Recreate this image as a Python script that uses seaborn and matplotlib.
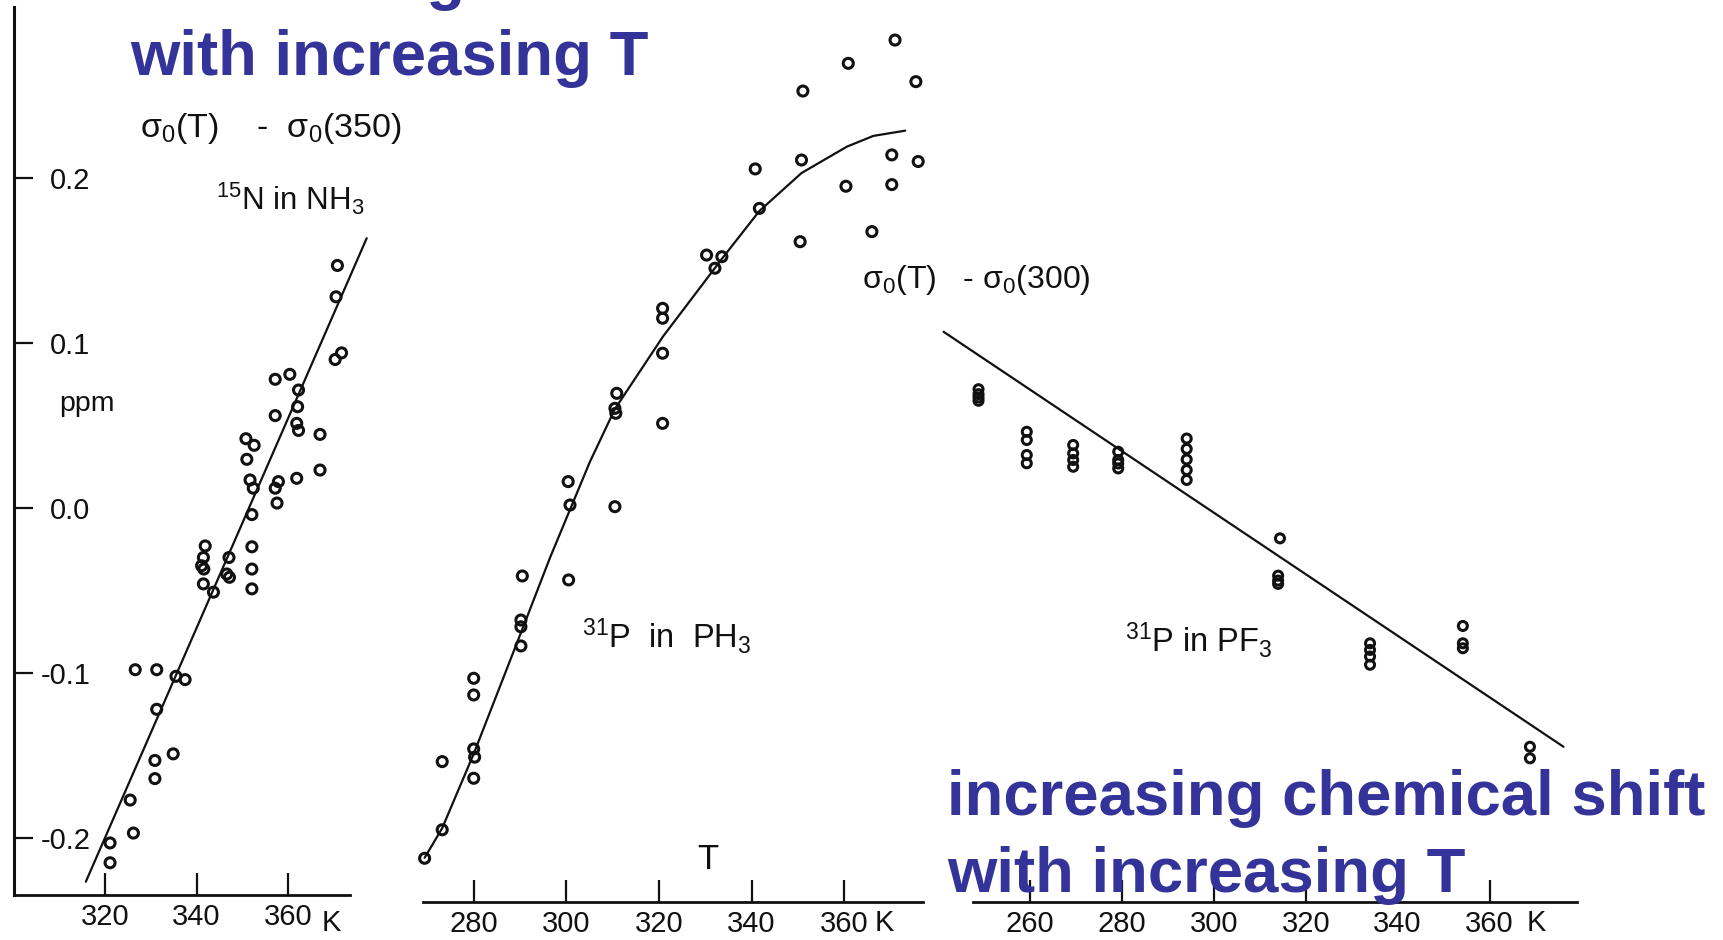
import numpy as np
import pandas as pd
import matplotlib
matplotlib.use("Agg")
import matplotlib.pyplot as plt
import seaborn as sns

# ---------------- data ----------------
# Panel 1: 15N in NH3, sigma0(T) - sigma0(350), ppm
nh3_T = [370.8, 370.5, 370.3, 371.7, 357.2, 360.4, 362.3, 362.1, 361.9, 362.3,
         357.2, 367.0, 350.8, 352.6, 351.0, 351.7, 352.4, 357.9, 357.2, 357.6,
         361.9, 367.0, 352.1, 352.1, 341.9, 341.5, 341.1, 341.6, 347.1, 346.6,
         347.2, 341.5, 343.7, 352.1, 352.1, 326.6, 331.3, 335.5, 337.5, 331.3,
         330.9, 334.9, 330.9, 325.5, 326.2, 321.1, 321.1]
nh3_v = [0.147, 0.128, 0.090, 0.094, 0.078, 0.081, 0.0715, 0.0614, 0.0513, 0.047,
         0.056, 0.0446, 0.042, 0.038, 0.0295, 0.017, 0.012, 0.016, 0.012, 0.003,
         0.018, 0.023, -0.004, -0.0235, -0.023, -0.030, -0.035, -0.037, -0.030, -0.040,
         -0.042, -0.046, -0.051, -0.037, -0.049, -0.098, -0.098, -0.102, -0.104, -0.122,
         -0.153, -0.149, -0.164, -0.177, -0.197, -0.203, -0.215]
nh3_fit_T = [315.8, 377.2]
nh3_fit_v = [-0.2265, 0.1635]

# Panel 2: 31P in PH3
ph3_T = [371.0, 360.9, 375.5, 351.1, 340.8, 350.8, 370.3, 376.0, 360.4, 370.3,
         341.7, 366.0, 350.5, 330.3, 333.6, 332.1, 320.8, 320.8, 320.8, 310.9,
         310.5, 310.7, 320.8, 300.4, 300.8, 310.5, 290.5, 300.5, 290.2, 290.2,
         290.2, 280.0, 280.0, 280.0, 280.2, 273.2, 280.0, 273.2, 269.4]
ph3_v = [0.2836, 0.2695, 0.2584, 0.2527, 0.2055, 0.2109, 0.214, 0.210, 0.195, 0.196,
         0.1816, 0.1675, 0.1614, 0.1533, 0.1523, 0.1453, 0.121, 0.115, 0.0938, 0.0695,
         0.0604, 0.0574, 0.0513, 0.016, 0.0018, 0.0008, -0.0412, -0.0436, -0.0679, -0.072,
         -0.0836, -0.1032, -0.1133, -0.146, -0.151, -0.1537, -0.1638, -0.195, -0.2123]
ph3_fit_T = [269.4, 273.2, 280.0, 290.7, 296.5, 305.1, 310.5, 320.9, 333.6, 341.7,
             350.8, 360.6, 366.3, 373.2]
ph3_fit_v = [-0.212, -0.194, -0.149, -0.072, -0.030, 0.028, 0.060, 0.104, 0.151, 0.180,
             0.203, 0.219, 0.2255, 0.2287]

# Panel 3: 31P in PF3, sigma0(T) - sigma0(300)
pf3_T = [248.8, 248.8, 248.8, 248.8,
         259.3, 259.3, 259.3, 259.3,
         269.4, 269.4, 269.4, 269.4,
         279.2, 279.2, 279.2, 279.2,
         294.1, 294.1, 294.1, 294.1, 294.1,
         314.4, 314.0, 314.0, 314.0,
         334.0, 334.0, 334.0, 334.0,
         354.2, 354.2, 354.2,
         368.8, 368.8]
pf3_v = [0.072, 0.069, 0.067, 0.065,
         0.0462, 0.0412, 0.0321, 0.0271,
         0.0382, 0.0331, 0.0291, 0.025,
         0.0341, 0.0291, 0.027, 0.024,
         0.0421, 0.0358, 0.0294, 0.023, 0.017,
         -0.0184, -0.041, -0.044, -0.046,
         -0.082, -0.086, -0.090, -0.095,
         -0.0715, -0.082, -0.085,
         -0.1447, -0.1517]
pf3_fit_T = [241.2, 376.1]
pf3_fit_v = [0.1068, -0.1447]

ytick_vals = [-0.2, -0.1, 0.0, 0.1, 0.2]
ytick_labels = ["-0.2", "-0.1", "0.0", "0.1", "0.2"]
xticks_1 = [320, 340, 360]
xticks_2 = [280, 300, 320, 340, 360]
xticks_3 = [260, 280, 300, 320, 340, 360]

# ---------------- style ----------------
sns.set_theme(style="white")
plt.rcParams['font.family'] = ['Liberation Sans', 'DejaVu Sans']
plt.rcParams['axes.unicode_minus'] = False
plt.rcParams['mathtext.fontset'] = 'custom'
plt.rcParams['mathtext.rm'] = 'Liberation Sans'
plt.rcParams['mathtext.it'] = 'Liberation Sans:italic'
plt.rcParams['mathtext.default'] = 'regular'

W, H = 1723, 940
fig = plt.figure(figsize=(W / 100, H / 100), dpi=100)
fig.patch.set_facecolor('white')


def rect(l, r, t, b):
    return [l / W, 1 - b / H, (r - l) / W, (b - t) / H]


def yv(px):
    return (508 - px) / 1650.0


ax1 = fig.add_axes(rect(14, 350, 7, 895))
ax2 = fig.add_axes(rect(423, 923, 7, 902))
ax3 = fig.add_axes(rect(943, 1577, 7, 902))

ax1.set_xlim(300.1, 373.55)
ax1.set_ylim(yv(895), yv(7))
ax2.set_xlim(269.05, 377.04)
ax2.set_ylim(yv(902), yv(7))
ax3.set_xlim(241.07, 379.04)
ax3.set_ylim(yv(902), yv(7))

ink = '#111111'
panels = [
    (ax1, nh3_T, nh3_v, nh3_fit_T, nh3_fit_v, xticks_1, 52),
    (ax2, ph3_T, ph3_v, ph3_fit_T, ph3_fit_v, xticks_2, 52),
    (ax3, pf3_T, pf3_v, pf3_fit_T, pf3_fit_v, xticks_3, 42),
]
for ax, xs, ys, fx, fy, xt, ms in panels:
    ax.set_facecolor('none')
    sns.lineplot(x=fx, y=fy, ax=ax, color=ink, linewidth=1.6, sort=False,
                 estimator=None, zorder=2, clip_on=False)
    sns.scatterplot(x=xs, y=ys, ax=ax, marker='o', s=ms, color=ink,
                    facecolor='none', edgecolor=ink, linewidth=2.2, zorder=3,
                    clip_on=False)
    ax.set_xticks(xt)
    ax.set_xticklabels([str(v) for v in xt])
    ax.tick_params(axis='x', direction='in', length=16, width=1.6, pad=6,
                   labelsize=21, colors=ink, bottom=True)
    for s in ['top', 'right']:
        ax.spines[s].set_visible(False)
    ax.spines['bottom'].set_color(ink)
    ax.spines['bottom'].set_linewidth(2.0)
    ax.set_xlabel('')
    ax.set_ylabel('')
    ax.grid(False)

ax1.spines['left'].set_color(ink)
ax1.spines['left'].set_linewidth(2.2)
ax1.set_yticks(ytick_vals)
ax1.set_yticklabels(ytick_labels)
ax1.tick_params(axis='y', direction='in', length=14, width=1.6, pad=-55,
                labelsize=21, colors=ink, left=True)

for ax in (ax2, ax3):
    ax.spines['left'].set_visible(False)
    ax.set_yticks([])
ax3.spines['bottom'].set_bounds(247.6, 379.04)


def ftext(x, y, s, **kw):
    fig.text(x / W, 1 - y / H, s, **kw)


# black annotations from the scanned figure
ftext(140, 137, r"σ$_0$(T)    -  σ$_0$(350)", fontsize=24.5, color=ink, va='baseline', ha='left')
ftext(216, 210, r"$^{15}$N in NH$_3$", fontsize=22.5, color=ink, va='baseline', ha='left')
ftext(59, 411, "ppm", fontsize=20.5, color=ink, va='baseline', ha='left')
ftext(582, 648, r"$^{31}$P  in  PH$_3$", fontsize=23.5, color=ink, va='baseline', ha='left')
ftext(708, 869, "T", fontsize=25, color=ink, va='baseline', ha='center')
ftext(862, 288, r"σ$_0$(T)   - σ$_0$(300)", fontsize=23, color=ink, va='baseline', ha='left')
ftext(1125, 652, r"$^{31}$P in PF$_3$", fontsize=23.5, color=ink, va='baseline', ha='left')
for kx in (331, 884, 1536):
    ftext(kx, 931, "K", fontsize=21, color=ink, va='baseline', ha='center')

# blue slide captions
blue = '#333399'
big = dict(fontsize=45.7, fontweight='bold', color=blue, va='baseline', ha='left',
           family=['Liberation Sans', 'DejaVu Sans'], zorder=10)
ftext(130, -2, "decreasing chemical shift", **big)
ftext(130, 75, "with increasing T", **big)
ftext(947, 815, "increasing chemical shift", **big)
ftext(947, 892, "with increasing T", **big)

fig.savefig("out.png", dpi=100, facecolor='white')
